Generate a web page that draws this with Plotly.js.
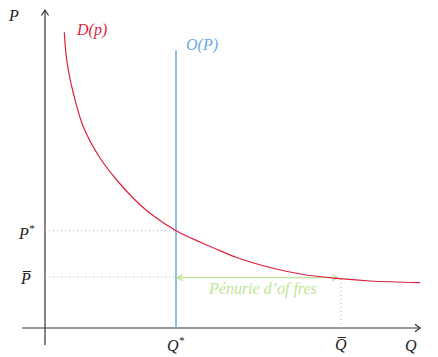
<!DOCTYPE html>
<html><head><meta charset="utf-8">
<script src="https://cdn.plot.ly/plotly-3.0.1.min.js"></script>
<style>html,body{margin:0;padding:0;background:#fff}</style>
</head><body><div id="chart" style="width:438px;height:357px"></div>
<script>
// Demand curve D(p) (arbitrary units)
const demandQ = [19.3, 21, 23.3, 28.3, 38.3, 55, 71.7, 88.3, 105, 131, 155, 170, 191.7, 225, 258.3, 295, 325, 375];
const demandP = [295.7, 274, 258, 235, 201.3, 170, 148, 129.7, 114.7, 97.3, 86, 79.5, 70.5, 60.5, 53.5, 49.3, 47, 45.3];
// Key values
const Qstar = 131, Qbar = 296;
const Pstar = 97.3, Pbar = 51;
const supplyTop = 277.5;
const shortageP = 50.3;
// Axis extents
const xAxisFrom = -23, xAxisTo = 375;
const yAxisFrom = -17, yAxisTo = 318;

const RED = '#dc1f3f', BLUE = '#6fa8e6', GREEN = '#bde596', AX = '#333333', DOT = '#b0b0b0';
const FONT = 'Liberation Serif, Times New Roman, serif';

const traces = [
  // axes
  {x:[xAxisFrom, xAxisTo], y:[0,0], mode:'lines', line:{color:AX, width:1.2}},
  {x:[xAxisTo-5, xAxisTo, xAxisTo-5], y:[3.8, 0, -3.8], mode:'lines', line:{color:AX, width:1.2}},
  {x:[0,0], y:[yAxisFrom, yAxisTo], mode:'lines', line:{color:AX, width:1.2}},
  {x:[-3.6, 0, 3.6], y:[yAxisTo-5.5, yAxisTo, yAxisTo-5.5], mode:'lines', line:{color:AX, width:1.2}},
  // dotted guides
  {x:[0, Qstar], y:[Pstar, Pstar], mode:'lines', line:{color:DOT, width:1, dash:'1px,3px'}},
  {x:[0, Qstar], y:[Pbar, Pbar], mode:'lines', line:{color:DOT, width:1, dash:'1px,3px'}},
  {x:[Qbar, Qbar], y:[0, shortageP-1], mode:'lines', line:{color:DOT, width:1, dash:'1px,3px'}},
  // supply
  {x:[Qstar, Qstar], y:[0, supplyTop], mode:'lines', line:{color:BLUE, width:1.5}},
  // shortage arrow
  {x:[Qstar+1, Qbar-3], y:[shortageP, shortageP], mode:'lines', line:{color:GREEN, width:1.3}},
  {x:[Qstar+7, Qstar+1, Qstar+7], y:[shortageP+3, shortageP, shortageP-3], mode:'lines', line:{color:GREEN, width:1.3}},
  {x:[Qbar-9, Qbar-3, Qbar-9], y:[shortageP+3, shortageP, shortageP-3], mode:'lines', line:{color:GREEN, width:1.3}},
  // demand
  {x:demandQ, y:demandP, mode:'lines', line:{color:RED, width:1.2, shape:'spline', smoothing:1}}
];

function lab(x, y, text, color, xanchor){
  return {x:x, y:y, xref:'x', yref:'y', text:text, showarrow:false,
    xanchor:xanchor||'center', yanchor:'middle',
    font:{family:FONT, size:16, color:color||'#222', style:'italic'}};
}

const layout = {
  width:438, height:357, margin:{l:0,r:0,t:0,b:0},
  paper_bgcolor:'#fff', plot_bgcolor:'#fff', showlegend:false,
  xaxis:{range:[-45, 393], visible:false, fixedrange:true},
  yaxis:{range:[-29, 328], visible:false, fixedrange:true},
  annotations:[
    lab(-32, 313, 'P'),
    lab(46, 298, 'D(p)', RED),
    lab(157, 283, 'O(P)', BLUE),
    lab(-8, 96.5, 'P<sup>*</sup>', '#222', 'right'),
    lab(-12, 50, 'P\u0305', '#222', 'right'),
    lab(Qstar, -16, 'Q<sup>*</sup>'),
    lab(Qbar, -16, 'Q\u0305'),
    lab(366, -17, 'Q'),
    lab(217, 39, 'Pénurie d\u2019of fres', GREEN)
  ]
};

Plotly.newPlot('chart', traces, layout, {displayModeBar:false, staticPlot:true});
</script></body></html>
